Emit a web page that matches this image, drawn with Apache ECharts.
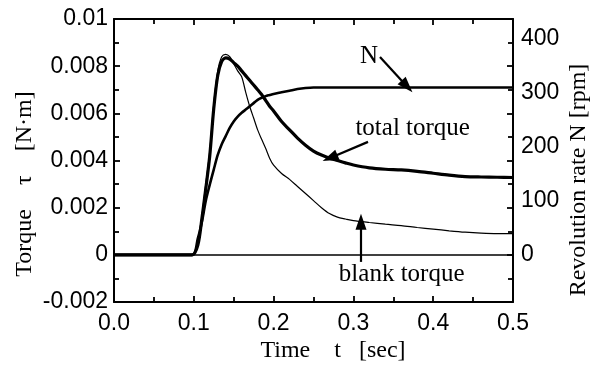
<!DOCTYPE html>
<html>
<head>
<meta charset="utf-8">
<script src="https://cdn.jsdelivr.net/npm/echarts@6/dist/echarts.min.js"></script>
<style>
  html, body { margin: 0; padding: 0; background: #fff; }
  #chart { width: 607px; height: 367px; }
</style>
</head>
<body>
<div id="chart"></div>
<script>
// time axis [sec]
const timeSec = [0, 0.05, 0.098, 0.105, 0.11, 0.115, 0.12, 0.125, 0.13, 0.135, 0.14, 0.145, 0.15, 0.155,
  0.16, 0.165, 0.17, 0.175, 0.18, 0.185, 0.19, 0.195, 0.2, 0.21, 0.22, 0.23, 0.24, 0.25, 0.26, 0.27,
  0.28, 0.29, 0.3, 0.32, 0.34, 0.36, 0.38, 0.4, 0.42, 0.44, 0.46, 0.48, 0.5];

// blank torque [N·m] (thin line)
const blankTorque = [0, 0, 0, 0.0004, 0.0016, 0.003, 0.0044, 0.0064, 0.0078, 0.0084, 0.0085, 0.0084, 0.0081, 0.0078,
  0.00755, 0.0069, 0.0063, 0.0058, 0.0053, 0.0049, 0.00452, 0.0041, 0.0038, 0.00345, 0.0032, 0.0029, 0.0026, 0.0023,
  0.002, 0.00175, 0.0016, 0.00152, 0.00145, 0.00137, 0.0013, 0.00124, 0.00116, 0.00109, 0.00102, 0.00096, 0.00092,
  0.0009, 0.0009];

// total torque [N·m] (thick line)
const totalTorque = [0, 0, 0, 0.0004, 0.0015, 0.0028, 0.0042, 0.0062, 0.0076, 0.0082, 0.00835, 0.0083, 0.00815, 0.008,
  0.0078, 0.0076, 0.0074, 0.0072, 0.007, 0.0068, 0.00655, 0.0063, 0.0061, 0.00565, 0.0053, 0.00495, 0.00465, 0.0044,
  0.00423, 0.0041, 0.004, 0.0039, 0.00381, 0.00369, 0.00363, 0.0036, 0.00354, 0.00346, 0.00338, 0.00332, 0.0033,
  0.00329, 0.00328];

// revolution rate N [rpm]
const revRate = [0, 0, 0, 30, 60, 100, 130, 158, 185, 205, 220, 235, 247, 256,
  263, 269, 275, 281, 287, 291, 294, 296, 298, 301, 304, 307, 309, 310, 310, 310,
  310, 310, 310, 310, 310, 310, 310, 310, 310, 310, 310, 310, 310];

const rpmTicks = [0, 100, 200, 300, 400];

// annotations, in (t, torque) units
const noteLabels = ["N", "total torque", "blank torque"];
const noteAt = [[0.3195, 0.00841], [0.3743, 0.00538], [0.3605, -0.00085]];
const arrowFrom = [[0.3333, 0.00839], [0.3183, 0.00479], [0.3095, -0.0003]];
const arrowTo = [[0.3672, 0.00714], [0.2707, 0.00411], [0.3095, 0.0014]];

const pair = (vals) => timeSec.map((t, i) => [t, vals[i]]);

const SANS = "'Liberation Sans', Arial, sans-serif";
const SERIF = "'Liberation Serif', 'Times New Roman', serif";
const INK = "#000";

const chart = echarts.init(document.getElementById("chart"), null, { renderer: "canvas" });

const tickStyle = () => ({ show: true, inside: true, length: 6, lineStyle: { color: INK, width: 1.8 } });
const minorStyle = () => ({ show: true, splitNumber: 2, length: 5, lineStyle: { color: INK, width: 1.8 } });
const frameLine = () => ({ show: true, onZero: false, lineStyle: { color: INK, width: 2 } });

chart.setOption({
  animation: false,
  grid: { left: 114, right: 94, top: 19, bottom: 65 },
  xAxis: [
    {
      type: "value", min: 0, max: 0.5, interval: 0.1, position: "bottom",
      axisLine: frameLine(), axisTick: tickStyle(), minorTick: minorStyle(),
      splitLine: { show: false },
      axisLabel: { color: INK, fontFamily: SANS, fontSize: 23, margin: 10, formatter: (v) => v.toFixed(1) },
    },
    {
      type: "value", min: 0, max: 0.5, interval: 0.1, position: "top",
      axisLine: frameLine(), axisTick: tickStyle(), minorTick: minorStyle(),
      splitLine: { show: false }, axisLabel: { show: false },
    },
  ],
  yAxis: [
    {
      type: "value", min: -0.002, max: 0.01, interval: 0.002, position: "left",
      axisLine: frameLine(), axisTick: tickStyle(), minorTick: minorStyle(),
      splitLine: { show: false },
      axisLabel: { color: INK, fontFamily: SANS, fontSize: 23, margin: 6, formatter: (v) => String(parseFloat(v.toFixed(3))) },
    },
    {
      type: "value", min: -0.002, max: 0.01, interval: 0.002, position: "right",
      axisLine: frameLine(), axisTick: tickStyle(), minorTick: minorStyle(),
      splitLine: { show: false }, axisLabel: { show: false },
    },
    {
      type: "value", min: -87.3, max: 436.8, position: "right",
      axisLine: { show: false }, axisTick: { show: false }, splitLine: { show: false },
      axisLabel: { color: INK, fontFamily: SANS, fontSize: 23, margin: 8, customValues: rpmTicks },
    },
  ],
  graphic: [
    {
      type: "text", x: 333, y: 351,
      style: { text: "Time    t   [sec]", font: "24px " + SERIF, fill: INK, textAlign: "center", textVerticalAlign: "middle" },
    },
    {
      type: "text", x: 25, y: 184, rotation: Math.PI / 2,
      style: { text: "Torque    τ    [N·m]", font: "24px " + SERIF, fill: INK, textAlign: "center", textVerticalAlign: "middle" },
    },
    {
      type: "text", x: 579, y: 180, rotation: Math.PI / 2,
      style: { text: "Revolution rate N [rpm]", font: "24px " + SERIF, fill: INK, textAlign: "center", textVerticalAlign: "middle" },
    },
  ],
  series: [
    {
      name: "blank torque", type: "line", xAxisIndex: 0, yAxisIndex: 0,
      data: pair(blankTorque), showSymbol: false, smooth: 0.3,
      lineStyle: { color: INK, width: 1.2 },
      markLine: {
        silent: true, symbol: "none", label: { show: false },
        lineStyle: { color: INK, width: 1.5, type: "solid" },
        data: [{ yAxis: 0 }],
      },
    },
    {
      name: "total torque", type: "line", xAxisIndex: 0, yAxisIndex: 0,
      data: pair(totalTorque), showSymbol: false, smooth: 0.3,
      lineStyle: { color: INK, width: 3.2 },
      markLine: {
        silent: true, symbol: ["none", "triangle"], symbolSize: [11, 16],
        label: { show: false },
        lineStyle: { color: INK, width: 2.2, type: "solid" },
        itemStyle: { color: INK },
        data: arrowFrom.map((p, i) => [{ coord: p }, { coord: arrowTo[i] }]),
      },
      markPoint: {
        silent: true, symbol: "circle", symbolSize: 0,
        label: { show: true, position: "inside", color: INK, fontFamily: SERIF, fontSize: 25, formatter: (p) => p.name },
        data: noteLabels.map((n, i) => ({ name: n, coord: noteAt[i] })),
      },
    },
    {
      name: "N", type: "line", xAxisIndex: 0, yAxisIndex: 2,
      data: pair(revRate), showSymbol: false, smooth: 0.3,
      lineStyle: { color: INK, width: 2.6 },
    },
  ],
});
</script>
</body>
</html>
